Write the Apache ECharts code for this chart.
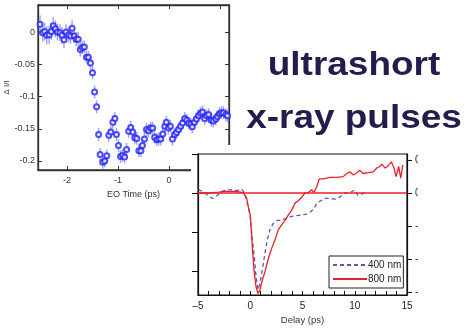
<!DOCTYPE html>
<html><head><meta charset="utf-8">
<script src="https://cdn.jsdelivr.net/npm/echarts@6/dist/echarts.min.js"></script>
<style>html,body{margin:0;padding:0;background:#fff}#c{width:466px;height:329px}</style>
</head><body><div id="c"></div>
<script>
// ---- Top-left chart: Δ I/I vs EO time ----
const eoTime = [-2.53,-2.48,-2.44,-2.40,-2.35,-2.31,-2.27,-2.23,-2.19,-2.14,-2.10,-2.06,-2.02,-1.97,-1.93,-1.90,-1.86,-1.82,-1.78,-1.74,-1.70,-1.66,-1.62,-1.58,-1.54,-1.50,-1.46,-1.42,-1.38,-1.35,-1.30,-1.26,-1.22,-1.18,-1.14,-1.10,-1.06,-1.03,-0.99,-0.95,-0.91,-0.87,-0.83,-0.79,-0.75,-0.71,-0.67,-0.63,-0.59,-0.55,-0.52,-0.48,-0.44,-0.40,-0.36,-0.32,-0.28,-0.24,-0.20,-0.16,-0.12,-0.08,-0.05,-0.01,0.03,0.07,0.11,0.15,0.19,0.23,0.27,0.31,0.35,0.39,0.43,0.46,0.50,0.54,0.58,0.62,0.66,0.70,0.74,0.78,0.83,0.87,0.92,0.95,0.99,1.03,1.07,1.12,1.15];
const deltaI = [0.012,-0.001,0.001,-0.005,-0.004,0.001,0.010,0.005,0.000,-0.001,-0.005,-0.012,0.000,-0.004,-0.006,0.006,-0.006,-0.011,-0.011,-0.027,-0.024,-0.023,-0.039,-0.039,-0.048,-0.063,-0.093,-0.116,-0.159,-0.190,-0.202,-0.200,-0.192,-0.160,-0.155,-0.140,-0.134,-0.159,-0.176,-0.193,-0.191,-0.194,-0.182,-0.154,-0.148,-0.155,-0.164,-0.165,-0.184,-0.184,-0.176,-0.166,-0.151,-0.153,-0.149,-0.149,-0.163,-0.167,-0.166,-0.166,-0.158,-0.146,-0.140,-0.149,-0.146,-0.166,-0.159,-0.156,-0.151,-0.146,-0.141,-0.134,-0.137,-0.141,-0.143,-0.147,-0.140,-0.135,-0.130,-0.126,-0.124,-0.134,-0.130,-0.128,-0.137,-0.138,-0.135,-0.131,-0.127,-0.125,-0.125,-0.128,-0.130];
const deltaIErr = [0.014,0.014,0.014,0.014,0.014,0.013,0.013,0.013,0.013,0.013,0.013,0.013,0.012,0.012,0.012,0.012,0.011,0.011,0.011,0.011,0.010,0.010,0.010,0.010,0.010,0.010,0.010,0.010,0.010,0.010,0.010,0.010,0.010,0.010,0.010,0.010,0.010,0.010,0.010,0.010,0.010,0.010,0.010,0.010,0.010,0.010,0.010,0.010,0.010,0.010,0.010,0.010,0.010,0.010,0.010,0.010,0.010,0.010,0.010,0.010,0.010,0.010,0.010,0.010,0.010,0.010,0.010,0.010,0.010,0.010,0.010,0.010,0.010,0.010,0.010,0.010,0.010,0.010,0.010,0.010,0.010,0.010,0.010,0.010,0.010,0.010,0.010,0.010,0.010,0.010,0.010,0.010,0.010];
const eoTicks = [-2,-1,0,1];
const dILabels = [0,-0.05,-0.1,-0.15,-0.2];

// ---- Bottom-right chart: delay scan ----
const delay400 = [-4.97,-4.5,-4.0,-3.6,-3.15,-2.73,-2.25,-1.78,-1.3,-0.82,-0.5,-0.28,0,0.17,0.39,0.55,0.74,0.93,1.15,1.41,1.63,1.89,2.2,2.6,3.0,3.49,3.97,4.44,4.92,5.4,5.78,6.1,6.36,6.74,7.15,7.63,8.1,8.6,9.07,9.55,10.0,10.3,10.7,11.0];
const signal400 = [0.04,0.02,-0.04,-0.07,-0.03,0.02,0.04,0.04,0.03,0.05,-0.01,-0.13,-0.30,-0.56,-0.82,-1.07,-1.24,-1.16,-0.99,-0.77,-0.60,-0.47,-0.39,-0.35,-0.35,-0.32,-0.30,-0.29,-0.28,-0.27,-0.24,-0.20,-0.13,-0.10,-0.07,-0.07,-0.08,-0.05,0.0,0.005,0.04,-0.03,-0.01,0.005];
const delay800 = [-5,-4,-3,-2.5,-2,-1.5,-1,-0.66,-0.34,-0.15,0,0.1,0.22,0.36,0.55,0.74,0.93,1.15,1.41,1.73,2.05,2.37,2.69,3.0,3.33,3.65,3.97,4.28,4.6,4.92,5.24,5.55,5.88,6.1,6.36,6.6,6.99,7.63,8.27,8.9,9.23,9.55,9.86,10.19,10.5,10.8,11.3,11.78,12.1,12.4,12.6,12.9,13.2,13.5,13.76,13.95,14.2,14.4,14.6];
const signal800 = [0,0,0.01,0.02,0.02,0.02,0.015,0,-0.07,-0.20,-0.28,-0.47,-0.73,-0.99,-1.20,-1.29,-1.24,-1.12,-1.01,-0.84,-0.71,-0.60,-0.47,-0.41,-0.35,-0.28,-0.22,-0.13,-0.10,-0.055,0,0.005,0.04,0.01,0.08,0.18,0.18,0.20,0.20,0.21,0.25,0.27,0.23,0.26,0.29,0.25,0.26,0.27,0.32,0.34,0.37,0.32,0.35,0.40,0.32,0.21,0.34,0.19,0.36];
const delayTicks = [-5,0,5,10,15];
const delayMinor = [-5,-4,-3,-2,-1,0,1,2,3,4,5,6,7,8,9,10,11,12,13,14,15];
const leftTicks = [0.5,0,-0.5,-1];
const rightTicks = [0.2,0,-0.2,-0.4,-0.6];
const seriesNames = ['400 nm','800 nm'];
const baseline800 = 0;

const FONT = '"Liberation Sans", Arial, sans-serif';
const chart = echarts.init(document.getElementById('c'), null, {renderer:'canvas'});

const errData = eoTime.map((t,i)=>[t, deltaI[i], deltaIErr[i]]);
const ptData = eoTime.map((t,i)=>[t, deltaI[i]]);

chart.setOption({
  animation:false,
  backgroundColor:'#fff',
  textStyle:{fontFamily:FONT},
  grid:[
    {left:38, top:5, width:191, height:165, show:true, borderColor:'#333', borderWidth:1.3, backgroundColor:'#fff', z:0},
    {left:198, top:154, width:209, height:141, show:true, borderColor:'#111', borderWidth:1.2, backgroundColor:'#fff', z:10}
  ],
  xAxis:[
    {gridIndex:0, type:'value', min:-2.57, max:1.18, position:'bottom',
     name:'EO Time (ps)', nameLocation:'middle', nameGap:13,
     nameTextStyle:{fontSize:9, color:'#333', fontFamily:FONT},
     axisLine:{onZero:false, lineStyle:{color:'#333', width:1.3}},
     axisTick:{inside:true, length:4, customValues:eoTicks, lineStyle:{color:'#333'}},
     axisLabel:{customValues:eoTicks, fontSize:9, color:'#333', margin:6, fontFamily:FONT},
     splitLine:{show:false}},
    {gridIndex:0, type:'value', min:-2.57, max:1.18, position:'top',
     axisLine:{onZero:false, lineStyle:{color:'#333', width:1.3}},
     axisTick:{inside:true, length:4, customValues:eoTicks, lineStyle:{color:'#333'}},
     axisLabel:{show:false}, splitLine:{show:false}},
    {gridIndex:1, type:'value', min:-5, max:15, position:'bottom', z:12,
     name:'Delay (ps)', nameLocation:'middle', nameGap:20,
     nameTextStyle:{fontSize:9.5, color:'#333', fontFamily:FONT},
     axisLine:{onZero:false, lineStyle:{color:'#111', width:1.2}},
     axisTick:{inside:true, length:4, customValues:delayMinor, lineStyle:{color:'#111'}},
     axisLabel:{customValues:delayTicks, fontSize:10, color:'#222', margin:6, fontFamily:FONT,
                formatter:v=>String(v).replace('-','\u2013')},
     splitLine:{show:false}}
  ],
  yAxis:[
    {gridIndex:0, type:'value', min:-0.214, max:0.042, position:'left',
     name:'\u0394 I/I', nameLocation:'middle', nameGap:22,
     nameTextStyle:{fontSize:8, color:'#333', fontFamily:FONT},
     axisLine:{onZero:false, lineStyle:{color:'#333', width:1.3}},
     axisTick:{inside:true, length:4, customValues:dILabels, lineStyle:{color:'#333'}},
     axisLabel:{customValues:dILabels, fontSize:9, color:'#333', margin:3, fontFamily:FONT},
     splitLine:{show:false}},
    {gridIndex:0, type:'value', min:-0.214, max:0.042, position:'right',
     axisLine:{onZero:false, lineStyle:{color:'#333', width:1.3}},
     axisTick:{inside:true, length:4, customValues:dILabels, lineStyle:{color:'#333'}},
     axisLabel:{show:false}, splitLine:{show:false}},
    {gridIndex:1, type:'value', min:-1.308, max:0.5, position:'left', z:12,
     axisLine:{onZero:false, lineStyle:{color:'#111', width:1.2}},
     axisTick:{inside:false, length:6, customValues:leftTicks, lineStyle:{color:'#111'}},
     axisLabel:{show:false}, splitLine:{show:false}},
    {gridIndex:1, type:'value', min:-0.618, max:0.236, position:'right', z:12,
     axisLine:{onZero:false, lineStyle:{color:'#111', width:1.2}},
     axisTick:{inside:false, length:5, customValues:rightTicks, lineStyle:{color:'#111'}},
     axisLabel:{customValues:rightTicks, fontSize:10, color:'#222', margin:8, fontFamily:FONT},
     splitLine:{show:false}}
  ],
  legend:{
    data:seriesNames, left:329, top:256, orient:'vertical', z:15,
    padding:[4,2,4,3], itemGap:4, itemWidth:34, itemHeight:8,
    borderColor:'#222', borderWidth:1, backgroundColor:'#fff',
    itemStyle:{opacity:0},
    textStyle:{fontSize:10, color:'#222', fontFamily:FONT, padding:[0,0,0,-4]},
    selectedMode:false
  },
  graphic:[
    {type:'rect', z:5, shape:{x:191, y:145, width:275, height:184}, style:{fill:'#fff'}, silent:true},
    {type:'rect', z:50, shape:{x:418, y:150, width:48, height:150}, style:{fill:'#fff'}, silent:true},
    {type:'text', z:60, x:354, y:66, scaleX:1.12,
     style:{text:'ultrashort', x:0, y:0, align:'center', verticalAlign:'middle', textAlign:'center', textVerticalAlign:'middle',
            font:'bold 33px "Liberation Sans", Arial, sans-serif', fill:'#241c4c'}},
    {type:'text', z:60, x:354, y:118.5, scaleX:1.12,
     style:{text:'x-ray pulses', x:0, y:0, align:'center', verticalAlign:'middle', textAlign:'center', textVerticalAlign:'middle',
            font:'bold 33px "Liberation Sans", Arial, sans-serif', fill:'#241c4c'}}
  ],
  series:[
    {type:'custom', xAxisIndex:0, yAxisIndex:0, z:2, silent:true, data:errData,
     renderItem:function(params, api){
       const x=api.value(0), y=api.value(1), e=api.value(2);
       const p1=api.coord([x,y-e]), p2=api.coord([x,y+e]);
       return {type:'line', shape:{x1:p1[0],y1:p1[1],x2:p2[0],y2:p2[1]}, style:{stroke:'#a3a3ff', lineWidth:1.5}};
     }},
    {type:'scatter', xAxisIndex:0, yAxisIndex:0, z:3, silent:true, data:ptData,
     symbol:'emptyCircle', symbolSize:5,
     itemStyle:{color:'#2222ff', borderWidth:1.2}},
    {name:seriesNames[0], type:'line', xAxisIndex:2, yAxisIndex:2, z:13, silent:true,
     data:delay400.map((d,i)=>[d, signal400[i]]), symbol:'none', smooth:false,
     lineStyle:{color:'#5a5ab4', width:1.3, type:[4,3]}, itemStyle:{color:'#5a5ab4'}},
    {name:seriesNames[1], type:'line', xAxisIndex:2, yAxisIndex:2, z:13, silent:true,
     data:delay800.map((d,i)=>[d, signal800[i]]), symbol:'none', smooth:false,
     lineStyle:{color:'#e8202a', width:1.3}, itemStyle:{color:'#e8202a'},
     markLine:{silent:true, z:14, symbol:['none','none'], label:{show:false},
       lineStyle:{color:'#e8202a', width:1.5, type:'solid'}, data:[{yAxis:baseline800}]}}
  ]
});
</script></body></html>
